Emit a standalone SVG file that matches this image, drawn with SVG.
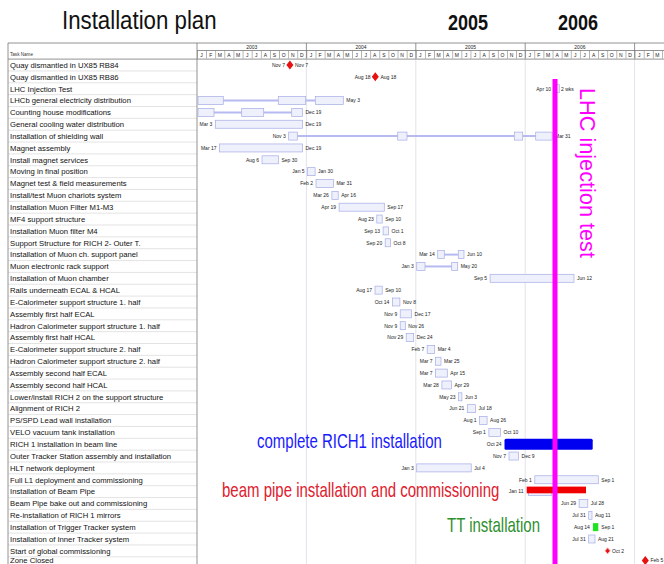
<svg xmlns="http://www.w3.org/2000/svg" width="664" height="564" viewBox="0 0 664 564">
<defs>
  <!-- month divider ticks, one every 1/12 year -->
  <pattern id="mgrid" patternUnits="userSpaceOnUse" x="197" y="0" width="9.1167" height="10">
    <line x1="0.3" y1="0" x2="0.3" y2="10" stroke="#666" stroke-width="0.6"/>
  </pattern>
  <path id="ms" d="M0,-4.5L3.5,0L0,4.5L-3.5,0Z" fill="#e81010"/>
  <path id="ms-s" d="M0,-3L2.5,0L0,3L-2.5,0Z" fill="#e81010" stroke="#f6a0a0" stroke-width="1"/>
</defs>
<style>
  .t { font-family: "Liberation Sans", Arial, sans-serif; font-size: 7.7px; fill: #111; }
  .h { font-family: "Liberation Sans", Arial, sans-serif; font-size: 4.6px; fill: #333; }
  .d { font-family: "Liberation Sans", Arial, sans-serif; font-size: 5px; fill: #222; }
  .e { text-anchor: end; }
  .m { font-family: "Liberation Sans", Arial, sans-serif; font-size: 5px; fill: #222; text-anchor: middle; }
  .bar { fill: #eef0fc; stroke: #a6ace6; stroke-width: 0.7; }
  .lnk { stroke: #b6baf0; stroke-width: 2; fill: none; }
  .row { stroke: #d0d0d0; stroke-width: 0.6; }
  .yr { stroke: #dcdce4; stroke-width: 0.8; }
  .frame { stroke: #777; stroke-width: 0.8; fill: none; }
  .big { font-family: "Liberation Sans", Arial, sans-serif; font-size: 20px; }
</style>

<rect width="664" height="564" fill="#fff"/>

<!-- headline -->
<g id="title">
  <text transform="translate(62,29) scale(0.89,1)" font-family="'Liberation Sans', Arial, sans-serif" font-size="25" fill="#111">Installation plan</text>
  <text transform="translate(468,30) scale(0.82,1)" font-family="'Liberation Sans', Arial, sans-serif" font-size="22" font-weight="bold" text-anchor="middle" fill="#111">2005</text>
  <text transform="translate(578,30) scale(0.82,1)" font-family="'Liberation Sans', Arial, sans-serif" font-size="22" font-weight="bold" text-anchor="middle" fill="#111">2006</text>
</g>

<!-- table grid -->
<g id="grid">
  <!-- row separators of the task list -->
  <path class="row" d="M8,70.95H197M8,82.8H197M8,94.65H197M8,106.5H197M8,118.35H197M8,130.2H197M8,142.05H197M8,153.9H197M8,165.75H197M8,177.6H197M8,189.45H197M8,201.3H197M8,213.15H197M8,225H197M8,236.85H197M8,248.7H197M8,260.55H197M8,272.4H197M8,284.25H197M8,296.1H197M8,307.95H197M8,319.8H197M8,331.65H197M8,343.5H197M8,355.35H197M8,367.2H197M8,379.05H197M8,390.9H197M8,402.75H197M8,414.6H197M8,426.45H197M8,438.3H197M8,450.15H197M8,462H197M8,473.85H197M8,485.7H197M8,497.55H197M8,509.4H197M8,521.25H197M8,533.1H197M8,544.95H197M8,556.8H197"/>
  <!-- year boundaries in the timeline -->
  <path class="yr" d="M306.4,59V564M415.8,59V564M525.2,59V564M634.6,59V564"/>
  <!-- month ticks of the timescale -->
  <rect x="197" y="50.5" width="467" height="8" fill="url(#mgrid)"/>
  <path class="frame" d="M8,43H664M197,50.5H664M8,59.1H664M8,43V564M197,43V564M306.4,43V58.5M415.8,43V58.5M525.2,43V58.5M634.6,43V58.5"/>
  <text class="h" x="10" y="56.3">Task Name</text>
  <text class="m" x="251.7" y="48.6" font-size="4.6">2003</text>
  <text class="m" x="361.1" y="48.6" font-size="4.6">2004</text>
  <text class="m" x="470.5" y="48.6" font-size="4.6">2005</text>
  <text class="m" x="579.9" y="48.6" font-size="4.6">2006</text>
  <text class="m" y="56.6" x="201.56 210.68 219.79 228.91 238.03 247.15 256.26 265.38 274.5 283.61 292.73 301.85">JFMAMJJASOND</text>
  <text class="m" y="56.6" x="310.96 320.08 329.19 338.31 347.43 356.55 365.66 374.78 383.9 393.01 402.13 411.25">JFMAMJJASOND</text>
  <text class="m" y="56.6" x="420.36 429.48 438.59 447.71 456.83 465.95 475.06 484.18 493.3 502.41 511.53 520.65">JFMAMJJASOND</text>
  <text class="m" y="56.6" x="529.76 538.88 547.99 557.11 566.23 575.35 584.46 593.58 602.7 611.81 620.93 630.05">JFMAMJJASOND</text>
  <text class="m" y="56.6" x="639.16 648.28 657.39">JFM</text>
</g>

<!-- links joining the pieces of split tasks -->
<g id="links">
  <path class="lnk" d="M223.3,100.55H278.3M305.7,100.55H315.3"/>
  <path class="lnk" d="M214,112.4H241.7M263.7,112.4H291.7"/>
  <path class="lnk" d="M297.3,136.1H397.7M407,136.1H514.3M522.7,136.1H535.7"/>
  <path class="lnk" d="M444.3,254.6H458.3"/>
  <path class="lnk" d="M425,266.45H451.7"/>
</g>

<!-- tasks: name in the list, bar and dates in the timeline -->
<g id="t01" transform="translate(0,65)">
  <text class="t" x="10" y="2.8">Quay dismantled in UX85 RB84</text>
  <use href="#ms" x="289.9" y="0"/>
  <text class="d e" x="285" y="1.8">Nov 7</text><text class="d" x="295" y="1.8">Nov 7</text>
</g>
<g id="t02" transform="translate(0,76.85)">
  <text class="t" x="10" y="2.8">Quay dismantled in UX85 RB86</text>
  <use href="#ms" x="375.3" y="0"/>
  <text class="d e" x="370.5" y="1.8">Aug 18</text><text class="d" x="380.5" y="1.8">Aug 18</text>
</g>
<g id="t03" transform="translate(0,88.7)">
  <text class="t" x="10" y="2.8">LHC Injection Test</text>
  <rect class="bar" x="555.1" y="-4" width="4.2" height="8"/>
  <text class="d e" x="551" y="1.8">Apr 10</text><text class="d" x="561" y="1.8">2 wks</text>
</g>
<g id="t04" transform="translate(0,100.55)">
  <text class="t" x="10" y="2.8">LHCb general electricity distribution</text>
  <rect class="bar" x="198" y="-4" width="25.3" height="8"/>
  <rect class="bar" x="278.3" y="-4" width="27.4" height="8"/>
  <rect class="bar" x="315.3" y="-4" width="28" height="8"/>
  <text class="d" x="346.3" y="1.8">May 3</text>
</g>
<g id="t05" transform="translate(0,112.4)">
  <text class="t" x="10" y="2.8">Counting house modifications</text>
  <rect class="bar" x="198" y="-4" width="16" height="8"/>
  <rect class="bar" x="241.7" y="-4" width="22" height="8"/>
  <rect class="bar" x="291.7" y="-4" width="10.8" height="8"/>
  <text class="d" x="305.5" y="1.8">Dec 19</text>
</g>
<g id="t06" transform="translate(0,124.25)">
  <text class="t" x="10" y="2.8">General cooling water distribution</text>
  <rect class="bar" x="215.3" y="-4" width="87.2" height="8"/>
  <text class="d e" x="212.3" y="1.8">Mar 3</text><text class="d" x="305.5" y="1.8">Dec 19</text>
</g>
<g id="t07" transform="translate(0,136.1)">
  <text class="t" x="10" y="2.8">Installation of shielding wall</text>
  <rect class="bar" x="288.7" y="-4" width="8.6" height="8"/>
  <rect class="bar" x="397.7" y="-4" width="9.3" height="8"/>
  <rect class="bar" x="514.3" y="-4" width="8.4" height="8"/>
  <rect class="bar" x="535.7" y="-4" width="16.4" height="8"/>
  <text class="d e" x="285.7" y="1.8">Nov 3</text><text class="d" x="555" y="1.8">Mar 31</text>
</g>
<g id="t08" transform="translate(0,147.95)">
  <text class="t" x="10" y="2.8">Magnet assembly</text>
  <rect class="bar" x="219.5" y="-4" width="83" height="8"/>
  <text class="d e" x="216.5" y="1.8">Mar 17</text><text class="d" x="305.5" y="1.8">Dec 19</text>
</g>
<g id="t09" transform="translate(0,159.8)">
  <text class="t" x="10" y="2.8">Install magnet services</text>
  <rect class="bar" x="262" y="-4" width="16.5" height="8"/>
  <text class="d e" x="259" y="1.8">Aug 6</text><text class="d" x="281.5" y="1.8">Sep 30</text>
</g>
<g id="t10" transform="translate(0,171.65)">
  <text class="t" x="10" y="2.8">Moving in final position</text>
  <rect class="bar" x="307.6" y="-4" width="7.5" height="8"/>
  <text class="d e" x="304.6" y="1.8">Jan 5</text><text class="d" x="318.1" y="1.8">Jan 30</text>
</g>
<g id="t11" transform="translate(0,183.5)">
  <text class="t" x="10" y="2.8">Magnet test &amp; field measurements</text>
  <rect class="bar" x="316" y="-4" width="17.4" height="8"/>
  <text class="d e" x="313" y="1.8">Feb 2</text><text class="d" x="336.4" y="1.8">Mar 31</text>
</g>
<g id="t12" transform="translate(0,195.35)">
  <text class="t" x="10" y="2.8">Install/test Muon chariots system</text>
  <rect class="bar" x="331.9" y="-4" width="6.3" height="8"/>
  <text class="d e" x="328.9" y="1.8">Mar 26</text><text class="d" x="341.2" y="1.8">Apr 16</text>
</g>
<g id="t13" transform="translate(0,207.2)">
  <text class="t" x="10" y="2.8">Installation Muon Filter M1-M3</text>
  <rect class="bar" x="339.1" y="-4" width="45.2" height="8"/>
  <text class="d e" x="336.1" y="1.8">Apr 19</text><text class="d" x="387.3" y="1.8">Sep 17</text>
</g>
<g id="t14" transform="translate(0,219.05)">
  <text class="t" x="10" y="2.8">MF4 support structure</text>
  <rect class="bar" x="376.8" y="-4" width="5.4" height="8"/>
  <text class="d e" x="373.8" y="1.8">Aug 23</text><text class="d" x="385.2" y="1.8">Sep 10</text>
</g>
<g id="t15" transform="translate(0,230.9)">
  <text class="t" x="10" y="2.8">Installation Muon filter M4</text>
  <rect class="bar" x="383.1" y="-4" width="5.4" height="8"/>
  <text class="d e" x="380.1" y="1.8">Sep 13</text><text class="d" x="391.5" y="1.8">Oct 1</text>
</g>
<g id="t16" transform="translate(0,242.75)">
  <text class="t" x="10" y="2.8">Support Structure for RICH 2- Outer T.</text>
  <rect class="bar" x="385.2" y="-4" width="5.4" height="8"/>
  <text class="d e" x="382.2" y="1.8">Sep 20</text><text class="d" x="393.6" y="1.8">Oct 8</text>
</g>
<g id="t17" transform="translate(0,254.6)">
  <text class="t" x="10" y="2.8">Installation of Muon ch. support panel</text>
  <rect class="bar" x="437.7" y="-4" width="6.6" height="8"/>
  <rect class="bar" x="458.3" y="-4" width="5.7" height="8"/>
  <text class="d e" x="434.7" y="1.8">Mar 14</text><text class="d" x="467" y="1.8">Jun 10</text>
</g>
<g id="t18" transform="translate(0,266.45)">
  <text class="t" x="10" y="2.8">Muon electronic rack support</text>
  <rect class="bar" x="416.7" y="-4" width="8.3" height="8"/>
  <rect class="bar" x="451.7" y="-4" width="6" height="8"/>
  <text class="d e" x="413.7" y="1.8">Jan 3</text><text class="d" x="460.7" y="1.8">May 20</text>
</g>
<g id="t19" transform="translate(0,278.3)">
  <text class="t" x="10" y="2.8">Installation of Muon chamber</text>
  <rect class="bar" x="490.1" y="-4" width="83.9" height="8"/>
  <text class="d e" x="487.1" y="1.8">Sep 5</text><text class="d" x="577" y="1.8">Jun 12</text>
</g>
<g id="t20" transform="translate(0,290.15)">
  <text class="t" x="10" y="2.8">Rails underneath ECAL &amp; HCAL</text>
  <rect class="bar" x="375" y="-4" width="7.2" height="8"/>
  <text class="d e" x="372" y="1.8">Aug 17</text><text class="d" x="385.2" y="1.8">Sep 10</text>
</g>
<g id="t21" transform="translate(0,302)">
  <text class="t" x="10" y="2.8">E-Calorimeter support structure 1. half</text>
  <rect class="bar" x="392.4" y="-4" width="7.5" height="8"/>
  <text class="d e" x="389.4" y="1.8">Oct 14</text><text class="d" x="402.9" y="1.8">Nov 8</text>
</g>
<g id="t22" transform="translate(0,313.85)">
  <text class="t" x="10" y="2.8">Assembly first half ECAL</text>
  <rect class="bar" x="400.2" y="-4" width="11.4" height="8"/>
  <text class="d e" x="397.2" y="1.8">Nov 9</text><text class="d" x="414.6" y="1.8">Dec 17</text>
</g>
<g id="t23" transform="translate(0,325.7)">
  <text class="t" x="10" y="2.8">Hadron Calorimeter support structure 1. half</text>
  <rect class="bar" x="400.2" y="-4" width="5.1" height="8"/>
  <text class="d e" x="397.2" y="1.8">Nov 9</text><text class="d" x="408.3" y="1.8">Nov 26</text>
</g>
<g id="t24" transform="translate(0,337.55)">
  <text class="t" x="10" y="2.8">Assembly first half HCAL</text>
  <rect class="bar" x="406.2" y="-4" width="7.5" height="8"/>
  <text class="d e" x="403.2" y="1.8">Nov 29</text><text class="d" x="416.7" y="1.8">Dec 24</text>
</g>
<g id="t25" transform="translate(0,349.4)">
  <text class="t" x="10" y="2.8">E-Calorimeter support structure 2. half</text>
  <rect class="bar" x="427.2" y="-4" width="7.5" height="8"/>
  <text class="d e" x="424.2" y="1.8">Feb 7</text><text class="d" x="437.7" y="1.8">Mar 4</text>
</g>
<g id="t26" transform="translate(0,361.25)">
  <text class="t" x="10" y="2.8">Hadron Calorimeter support structure 2. half</text>
  <rect class="bar" x="435.6" y="-4" width="5.4" height="8"/>
  <text class="d e" x="432.6" y="1.8">Mar 7</text><text class="d" x="444" y="1.8">Mar 25</text>
</g>
<g id="t27" transform="translate(0,373.1)">
  <text class="t" x="10" y="2.8">Assembly second half ECAL</text>
  <rect class="bar" x="435.6" y="-4" width="11.7" height="8"/>
  <text class="d e" x="432.6" y="1.8">Mar 7</text><text class="d" x="450.3" y="1.8">Apr 15</text>
</g>
<g id="t28" transform="translate(0,384.95)">
  <text class="t" x="10" y="2.8">Assembly second half HCAL</text>
  <rect class="bar" x="441.9" y="-4" width="9.5" height="8"/>
  <text class="d e" x="438.9" y="1.8">Mar 28</text><text class="d" x="454.4" y="1.8">Apr 29</text>
</g>
<g id="t29" transform="translate(0,396.8)">
  <text class="t" x="10" y="2.8">Lower/install RICH 2 on the support structure</text>
  <rect class="bar" x="458.6" y="-4" width="3.3" height="8"/>
  <text class="d e" x="455.6" y="1.8">May 23</text><text class="d" x="464.9" y="1.8">Jun 3</text>
</g>
<g id="t30" transform="translate(0,408.65)">
  <text class="t" x="10" y="2.8">Alignment of RICH 2</text>
  <rect class="bar" x="467.3" y="-4" width="8.1" height="8"/>
  <text class="d e" x="464.3" y="1.8">Jun 21</text><text class="d" x="478.4" y="1.8">Jul 18</text>
</g>
<g id="t31" transform="translate(0,420.5)">
  <text class="t" x="10" y="2.8">PS/SPD Lead wall installation</text>
  <rect class="bar" x="479.6" y="-4" width="7.5" height="8"/>
  <text class="d e" x="476.6" y="1.8">Aug 1</text><text class="d" x="490.1" y="1.8">Aug 26</text>
</g>
<g id="t32" transform="translate(0,432.35)">
  <text class="t" x="10" y="2.8">VELO vacuum tank installation</text>
  <rect class="bar" x="488.9" y="-4" width="11.7" height="8"/>
  <text class="d e" x="485.9" y="1.8">Sep 1</text><text class="d" x="503.6" y="1.8">Oct 10</text>
</g>
<g id="t33" transform="translate(0,444.2)">
  <text class="t" x="10" y="2.8">RICH 1 installation in beam line</text>
  <rect x="504.5" y="-5.5" width="88.2" height="11" rx="1.5" fill="#0000f0"/>
  <text class="d e" x="501.5" y="1.8">Oct 24</text>
</g>
<g id="t34" transform="translate(0,456.05)">
  <text class="t" x="10" y="2.8">Outer Tracker Station assembly and installation</text>
  <rect class="bar" x="509" y="-4" width="9.6" height="8"/>
  <text class="d e" x="506" y="1.8">Nov 7</text><text class="d" x="521.6" y="1.8">Dec 9</text>
</g>
<g id="t35" transform="translate(0,467.9)">
  <text class="t" x="10" y="2.8">HLT network deployment</text>
  <rect class="bar" x="416.7" y="-4" width="54.5" height="8"/>
  <text class="d e" x="413.7" y="1.8">Jan 3</text><text class="d" x="474.2" y="1.8">Jul 4</text>
</g>
<g id="t36" transform="translate(0,479.75)">
  <text class="t" x="10" y="2.8">Full L1 deployment and commissioning</text>
  <rect class="bar" x="534.8" y="-4" width="63.5" height="8"/>
  <text class="d e" x="531.8" y="1.8">Feb 1</text><text class="d" x="601.3" y="1.8">Sep 1</text>
</g>
<g id="t37" transform="translate(0,491.6)">
  <text class="t" x="10" y="2.8">Installation of Beam Pipe</text>
  <rect class="bar" x="528.5" y="-4" width="23.2" height="8"/>
  <rect x="526.7" y="-5" width="59.3" height="6.7" fill="#f00000"/>
  <text class="d e" x="523.5" y="1.8">Jan 11</text>
</g>
<g id="t38" transform="translate(0,503.45)">
  <text class="t" x="10" y="2.8">Beam Pipe bake out and commissioning</text>
  <rect class="bar" x="579.1" y="-4" width="8.7" height="8"/>
  <text class="d e" x="576.1" y="1.8">Jun 29</text><text class="d" x="590.8" y="1.8">Jul 28</text>
</g>
<g id="t39" transform="translate(0,515.3)">
  <text class="t" x="10" y="2.8">Re-installation of RICH 1 mirrors</text>
  <rect class="bar" x="588.7" y="-4" width="3.3" height="8"/>
  <text class="d e" x="585.7" y="1.8">Jul 31</text><text class="d" x="595" y="1.8">Aug 11</text>
</g>
<g id="t40" transform="translate(0,527.15)">
  <text class="t" x="10" y="2.8">Installation of Trigger Tracker system</text>
  <rect x="592.9" y="-4" width="5.4" height="8" fill="#22e022"/>
  <text class="d e" x="589.9" y="1.8">Aug 14</text><text class="d" x="601.3" y="1.8">Sep 1</text>
</g>
<g id="t41" transform="translate(0,539)">
  <text class="t" x="10" y="2.8">Installation of Inner Tracker system</text>
  <rect class="bar" x="588.7" y="-4" width="6.3" height="8"/>
  <text class="d e" x="585.7" y="1.8">Jul 31</text><text class="d" x="598" y="1.8">Aug 21</text>
</g>
<g id="t42" transform="translate(0,550.85)">
  <text class="t" x="10" y="2.8">Start of global commissioning</text>
  <use href="#ms-s" x="607.6" y="0"/>
  <text class="d" x="612" y="1.8">Oct 2</text>
</g>
<g id="t43" transform="translate(0,560.6)">
  <text class="t" x="10" y="2.8">Zone Closed</text>
  <use href="#ms" x="645.3" y="0"/>
  <text class="d" x="650.5" y="1.8">Feb 5</text>
</g>

<!-- LHC injection test marker -->
<g id="lhc-injection">
  <rect x="552.5" y="79" width="5" height="485" fill="#ff00ff"/>
  <text transform="translate(580,88) rotate(90)" font-family="'Liberation Sans', Arial, sans-serif" font-size="21.7" fill="#ff00ff">LHC injection test</text>
</g>

<!-- highlighted milestones -->
<g id="notes">
  <text class="big" transform="translate(257,448) scale(0.75,1)" fill="#1a1aff">complete RICH1 installation</text>
  <text class="big" transform="translate(222,497) scale(0.75,1)" fill="#e0202c">beam pipe installation and commissioning</text>
  <text class="big" transform="translate(447,532) scale(0.75,1)" fill="#2e8f2e">TT installation</text>
</g>
</svg>
